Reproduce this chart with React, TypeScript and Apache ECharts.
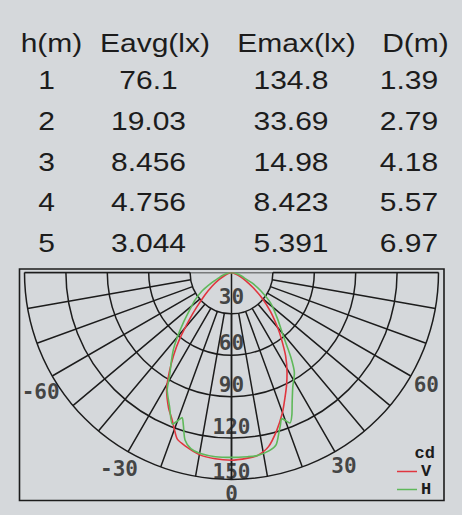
import React, { useEffect, useRef } from 'react';
import * as echarts from 'echarts';

// ---- table data ----
const HEADERS = ['h(m)', 'Eavg(lx)', 'Emax(lx)', 'D(m)'];
const HEIGHTS = [1, 2, 3, 4, 5];
const E_AVG = [76.1, 19.03, 8.456, 4.756, 3.044];
const E_MAX = [134.8, 33.69, 14.98, 8.423, 5.391];
const DIAMETER = [1.39, 2.79, 4.18, 5.57, 6.97];

// ---- polar diagram data ----
const RADIUS_TICKS = [30, 60, 90, 120, 150];
const ANGLE_TICKS = [-60, -30, 0, 30, 60];

// V plane (red): angle from nadir (deg), intensity (cd)
const V_ANGLES = [-90, -80, -70, -65, -60, -55, -50, -45, -42, -38, -35, -32, -29, -25, -22, -20, -18, -15, -10, -5, 0, 5, 8, 12, 16, 20, 23, 26, 29, 33, 37, 40, 45, 50, 55, 60, 65, 70, 80, 90];
const V_CD = [0, 1, 3, 6, 11, 17, 25, 36, 45, 61, 73, 85, 97, 108, 115, 121, 127, 130, 134, 135.5, 136, 135, 134, 129, 119, 108, 99, 91, 83, 72, 60, 52, 40, 29, 19, 12, 7, 3, 1, 0];

// H plane (green)
const H_ANGLES = [-90, -80, -72, -67, -63, -58, -53, -48, -44, -40, -37, -34, -31, -28.7, -24.8, -21.3, -19.8, -18.8, -17.5, -15.5, -13, -10, -5, 0, 5, 8, 12, 14.5, 16.5, 17.8, 19, 21.2, 23, 25, 28.2, 32, 35, 39, 45, 52, 58, 63, 67, 72, 80, 90];
const H_CD = [0, 3, 7, 10, 16, 25, 33, 41, 50, 61, 70, 78, 87, 97, 107, 118, 114, 111, 116, 126, 131, 133, 134, 134, 134, 134, 132, 129, 121, 116, 112, 117, 112, 104, 94, 86, 75, 60, 47, 36, 25, 17, 10, 7, 3, 0];

// ---- layout / style constants ----
const CX = 231.5;
const CY = 272.5;
const R = 207;
const R_MAX = 150;
const ANGLE_LABEL_R = 163;
const RADIUS_LABEL_DY = [-17, -12, -12, -11.5, -7.5];
const ANGLE_LABEL_SHIFT: [number, number][] = [[4, 7], [0, 2], [0, -3], [0, -1], [0, 0]];
const HEAD_X = [51.5, 155, 296.5, 415.5];
const COL_X = [46.5, 148.5, 291, 409];
const HEAD_Y = 43;
const ROW_Y0 = 80.6;
const ROW_STEP = 40.7;
const INK = '#1c1c1c';
const BG = '#d5d8db';
const RED = '#e0363f';
const GREEN = '#5fb85a';
const MONO = "'DejaVu Sans Mono', monospace";
const COURIER = "'Liberation Mono', 'Courier New', monospace";

export default function App() {
  const ref = useRef<HTMLDivElement>(null);

  useEffect(() => {
    if (!ref.current) return;
    const chart = echarts.init(ref.current, undefined, { renderer: 'svg' });

    const tableText = (text: string, x: number, y: number) => ({
      type: 'text',
      x,
      y,
      scaleX: 1.2,
      silent: true,
      style: {
        text,
        fill: INK,
        fontSize: 25,
        fontFamily: "'Liberation Sans', Arial, sans-serif",
        align: 'center',
        verticalAlign: 'middle',
      },
    });

    const graphics: any[] = [];
    HEADERS.forEach((h, i) => graphics.push(tableText(h, HEAD_X[i], HEAD_Y)));
    const columns = [HEIGHTS, E_AVG, E_MAX, DIAMETER];
    columns.forEach((col, c) => {
      col.forEach((v, r) => graphics.push(tableText(String(v), COL_X[c], ROW_Y0 + r * ROW_STEP)));
    });
    graphics.push({
      type: 'rect',
      shape: { x: 19.5, y: 269, width: 424.5, height: 231.5 },
      style: { fill: 'none', stroke: INK, lineWidth: 1.6 },
      silent: true,
      z: 10,
    });
    graphics.push({
      type: 'text',
      x: 435,
      y: 453.5,
      style: {
        text: 'cd',
        fill: INK,
        fontSize: 17,
        lineHeight: 14,
        fontWeight: 'bold',
        fontFamily: COURIER,
        align: 'right',
        verticalAlign: 'middle',
      },
    });

    const gridLine = { color: INK, width: 1.5 };
    const angleAxisBase = {
      type: 'value',
      min: -90,
      max: 90,
      interval: 10,
      startAngle: 180,
      endAngle: 360,
      clockwise: false,
    };

    const tickLabel = {
      show: true,
      position: 'inside',
      color: INK,
      fontSize: 21,
      fontWeight: 'bold',
      fontFamily: MONO,
    };

    const option: any = {
      animation: false,
      backgroundColor: BG,
      polar: [
        { center: [CX, CY], radius: [(R * 30) / R_MAX, R] },
        { center: [CX, CY], radius: [0, R] },
      ],
      angleAxis: [
        {
          ...angleAxisBase,
          polarIndex: 0,
          axisLine: { show: false },
          axisTick: { show: false },
          axisLabel: { show: false },
          splitLine: { show: true, lineStyle: gridLine },
        },
        {
          ...angleAxisBase,
          polarIndex: 1,
          axisLine: { show: false },
          axisTick: { show: false },
          axisLabel: { show: false },
          splitLine: { show: false },
        },
      ],
      radiusAxis: [
        {
          polarIndex: 0,
          type: 'value',
          min: 30,
          max: 150,
          interval: 30,
          axisLine: { show: false },
          axisTick: { show: false },
          axisLabel: { show: false },
          splitLine: { show: true, lineStyle: gridLine },
        },
        {
          polarIndex: 1,
          type: 'value',
          min: 0,
          max: R_MAX,
          axisLine: { show: false },
          axisTick: { show: false },
          axisLabel: { show: false },
          splitLine: { show: false },
        },
      ],
      legend: {
        data: ['V', 'H'],
        orient: 'vertical',
        left: 397,
        top: 463,
        icon: 'rect',
        itemWidth: 20,
        itemHeight: 1.5,
        itemGap: 1,
        padding: 0,
        textStyle: {
          color: INK,
          fontSize: 17,
          lineHeight: 14,
          fontWeight: 'bold',
          fontFamily: COURIER,
          padding: [0, 0, 0, -1],
        },
      },
      series: [
        {
          type: 'line',
          coordinateSystem: 'polar',
          polarIndex: 1,
          data: [[R_MAX, -90], [R_MAX, 90]],
          symbol: 'none',
          silent: true,
          clip: false,
          lineStyle: gridLine,
          z: 1,
        },
        {
          type: 'line',
          coordinateSystem: 'polar',
          polarIndex: 1,
          data: [[0, 0], [R_MAX, 0]],
          symbol: 'none',
          silent: true,
          clip: false,
          lineStyle: gridLine,
          z: 1,
        },
        {
          name: 'V',
          type: 'line',
          coordinateSystem: 'polar',
          polarIndex: 1,
          data: V_ANGLES.map((a, i) => [V_CD[i], a]),
          symbol: 'none',
          smooth: 0.25,
          clip: false,
          color: RED,
          lineStyle: { color: RED, width: 1.6 },
          z: 3,
        },
        {
          name: 'H',
          type: 'line',
          coordinateSystem: 'polar',
          polarIndex: 1,
          data: H_ANGLES.map((a, i) => [H_CD[i], a]),
          symbol: 'none',
          smooth: 0.25,
          clip: false,
          color: GREEN,
          lineStyle: { color: GREEN, width: 1.6 },
          z: 3,
        },
        {
          type: 'scatter',
          coordinateSystem: 'polar',
          polarIndex: 1,
          symbolSize: 1,
          silent: true,
          clip: false,
          itemStyle: { color: 'rgba(0,0,0,0)' },
          data: RADIUS_TICKS.map((v, i) => ({
            value: [v, 0],
            label: { offset: [0, RADIUS_LABEL_DY[i]] },
          })),
          label: { ...tickLabel, formatter: (p: any) => String(p.value[0]) },
          z: 5,
        },
        {
          type: 'scatter',
          coordinateSystem: 'polar',
          polarIndex: 1,
          symbolSize: 1,
          silent: true,
          clip: false,
          itemStyle: { color: 'rgba(0,0,0,0)' },
          data: ANGLE_TICKS.map((a, i) => ({
            value: [ANGLE_LABEL_R, a],
            label: { offset: ANGLE_LABEL_SHIFT[i] },
          })),
          label: { ...tickLabel, formatter: (p: any) => String(p.value[1]) },
          z: 5,
        },
      ],
      graphic: graphics,
    };

    chart.setOption(option);
    return () => chart.dispose();
  }, []);

  return (
    <div
      ref={ref}
      style={{ position: 'fixed', left: 0, top: 0, width: 462, height: 515 }}
    />
  );
}
